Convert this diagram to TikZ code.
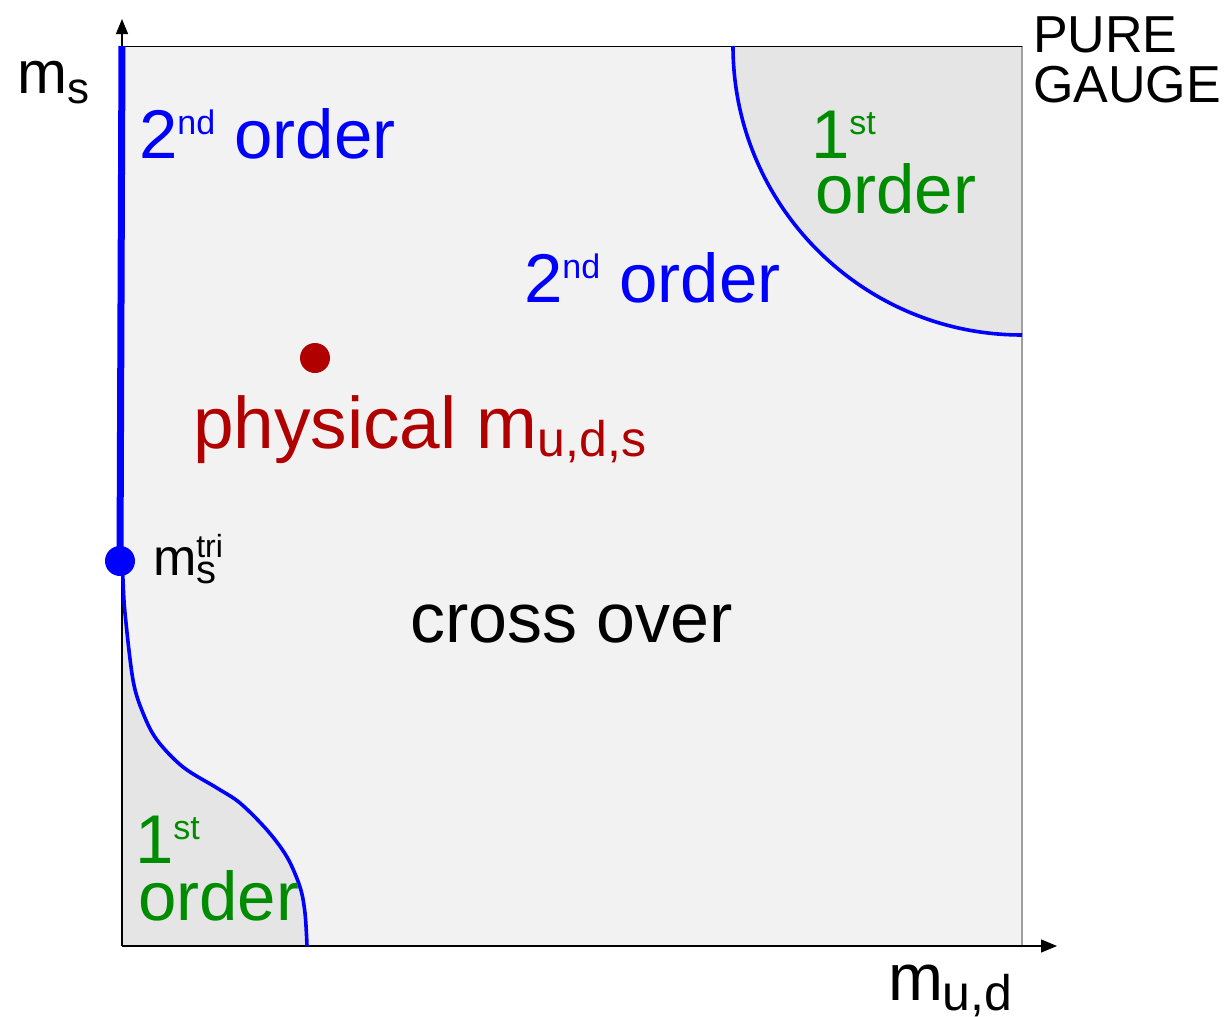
\documentclass[tikz,border=0pt]{standalone}
\usepackage{fontspec}
\setmainfont{Liberation Sans}
\usetikzlibrary{arrows.meta}
\definecolor{bgsq}{gray}{0.95}
\definecolor{firstreg}{gray}{0.898}
\definecolor{ordgreen}{RGB}{0,140,0}
\definecolor{physred}{RGB}{176,0,0}
\definecolor{linecol}{RGB}{0,0,255}
\newcommand\supz[1]{\raisebox{12pt}{\fontsize{17}{17}\selectfont #1}}
\begin{document}
\begin{tikzpicture}[x=0.5pt,y=-0.5pt,
  lbl/.style={inner sep=0pt,outer sep=0pt,anchor=base west},
  big/.style={font=\fontsize{34.5}{40}\selectfont},
  trans/.style={linecol,line width=1.8pt},
  axis/.style={black,line width=0.6pt},
  dotnode/.style={circle,inner sep=0pt,minimum size=15pt}]
\useasboundingbox (0,0) rectangle (1228,1017);
% square
\fill[bgsq] (122,46) rectangle (1022,946);
% pure gauge first order region
\coordinate (tra) at (733,46);
\coordinate (trb) at (1022,335);
\coordinate (trc) at (1022,46);
\fill[firstreg] (tra) arc[start angle=180,end angle=270,radius=144.5pt] -- (trc) -- cycle;
% chiral first order region
\fill[firstreg] plot[smooth,tension=0.55] coordinates {(122,561) (123,580) (125,613) (133,680) (143,713) (157,740) (183,767) (217,788) (240,803) (267,830) (287,857) (300,887) (305,913) (307,946)} -- (122,946) -- cycle;
% borders
\draw[gray!75,line width=0.7pt] (trc) -- (1022,946);
\draw[black,line width=0.5pt] (122,46) -- (trc);
% axes
\coordinate (origin) at (122,946);
\coordinate (ytip) at (122,19);
\coordinate (xtip) at (1057,946);
\draw[axis,-{Triangle[length=7.5pt,width=6pt]}] (origin) -- (ytip);
\draw[axis,-{Triangle[length=8pt,width=6.5pt]}] (origin) -- (xtip);
% transition lines
\node[dotnode,fill=linecol] (tri) at (120,561) {};
\draw[linecol,line width=3.5pt] (122,46) -- (tri.center);
\draw[trans] plot[smooth,tension=0.55] coordinates {(122,561) (123,580) (125,613) (133,680) (143,713) (157,740) (183,767) (217,788) (240,803) (267,830) (287,857) (300,887) (305,913) (307,946)};
\draw[trans] (tra) arc[start angle=180,end angle=270,radius=144.5pt];
% physical point
\node[dotnode,fill=physred] (phys) at (315,358) {};
% labels
\node[lbl,font=\fontsize{30}{30}\selectfont] (ms) at (18,93) {m\raisebox{-5pt}{\fontsize{22}{22}\selectfont s}};
\node[lbl,font=\fontsize{33}{33}\selectfont] (mud) at (888,1000) {m\raisebox{-5pt}{\fontsize{25}{25}\selectfont u,d}};
\node[lbl,font=\fontsize{26}{26}\selectfont] (pure) at (1033,53) {PURE};
\node[lbl,font=\fontsize{26}{26}\selectfont] (gauge) at (1033,102) {GAUGE};
\node[lbl,big,linecol] (secA) at (139,158) {2\supz{nd} order};
\node[lbl,big,linecol] (secB) at (524,302) {2\supz{nd} order};
\node[lbl,big,ordgreen] (firA) at (811,158) {1\supz{st}};
\node[lbl,big,ordgreen] (firAo) at (815,213) {order};
\node[lbl,big,ordgreen] (firB) at (135,863) {1\supz{st}};
\node[lbl,big,ordgreen] (firBo) at (138,920) {order};
\node[lbl,font=\fontsize{36.5}{36.5}\selectfont,physred] (physlbl) at (193,448) {physical m\raisebox{-4pt}{\fontsize{25}{25}\selectfont u,d,s}};
\node[lbl,font=\fontsize{35}{35}\selectfont] (cross) at (410,642) {cross over};
\node[lbl,font=\fontsize{26}{26}\selectfont] (mtri) at (153,575) {m\rlap{\raisebox{-4pt}{\fontsize{20}{20}\selectfont s}}\raisebox{9pt}{\fontsize{16}{16}\selectfont tri}};
\end{tikzpicture}
\end{document}
